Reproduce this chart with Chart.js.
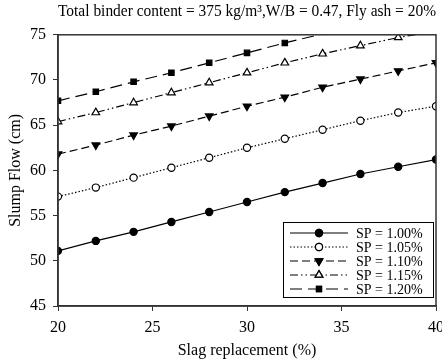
<!DOCTYPE html>
<html>
<head>
<meta charset="utf-8">
<script src="https://cdn.jsdelivr.net/npm/chart.js@4/dist/chart.umd.min.js"></script>
<style>
  body { margin: 0; background: #fff; }
  #wrap { width: 442px; height: 362px; }
</style>
</head>
<body>
<div id="wrap"><canvas id="slumpChart"></canvas></div>
<script>
// slag replacement (%)
const slag = [20, 22, 24, 26, 28, 30, 32, 34, 36, 38, 40];

// slump flow (cm) for each SP dosage
const sp100 = [51.1, 52.2, 53.2, 54.3, 55.4, 56.5, 57.6, 58.6, 59.6, 60.4, 61.2];
const sp105 = [57.1, 58.1, 59.2, 60.3, 61.4, 62.5, 63.5, 64.5, 65.5, 66.4, 67.1];
const sp110 = [61.8, 62.8, 63.9, 64.9, 66.0, 67.1, 68.1, 69.2, 70.1, 71.0, 71.9];
const sp115 = [65.4, 66.4, 67.5, 68.6, 69.7, 70.8, 71.9, 72.9, 73.8, 74.7, 75.4];
const sp120 = [67.7, 68.7, 69.8, 70.8, 71.9, 73.0, 74.1, 75.1, 76.1, 77.0, 77.8];

const seriesNames = ['SP = 1.00%', 'SP = 1.05%', 'SP = 1.10%', 'SP = 1.15%', 'SP = 1.20%'];
const yTicks = [45, 50, 55, 60, 65, 70, 75];
const xTicks = [20, 25, 30, 35, 40];

const serif = 'Liberation Serif, Times New Roman, serif';

function toPoints(vals) {
    return slag.map((x, i) => ({ x: x, y: vals[i] }));
}

// hide markers that fall above the axis top
function radiusIn(r) {
    return function(ctx) {
        const v = ctx.raw && ctx.raw.y;
        return v > 75 ? 0 : r;
    };
}

function makeSet(label, vals, style, fill, dash, rot, r) {
    return {
        label: label,
        data: toPoints(vals),
        borderColor: '#000',
        backgroundColor: fill,
        borderWidth: 1.2,
        borderDash: dash,
        pointStyle: style,
        pointRotation: rot,
        pointRadius: radiusIn(r),
        pointBorderColor: '#000',
        pointBackgroundColor: fill,
        pointBorderWidth: 1.2,
        tension: 0
    };
}

const datasets = [
    makeSet(seriesNames[0], sp100, 'circle', '#000', [], 0, 3.6),
    makeSet(seriesNames[1], sp105, 'circle', '#fff', [1.5, 2], 0, 3.6),
    makeSet(seriesNames[2], sp110, 'triangle', '#000', [8, 4], 180, 4.4),
    makeSet(seriesNames[3], sp115, 'triangle', '#fff', [8, 3, 1.5, 3, 1.5, 3], 0, 4.4),
    makeSet(seriesNames[4], sp120, 'rect', '#000', [12, 6], 0, 3.8)
];

// legend box inside the plot, bottom right
const boxLegend = {
    id: 'boxLegend',
    afterDatasetsDraw(chart) {
        const c = chart.ctx;
        const x0 = 283, y0 = 222, w = 150, h = 75;
        c.save();
        c.fillStyle = '#fff';
        c.fillRect(x0, y0, w, h);
        c.strokeStyle = '#000';
        c.lineWidth = 1;
        c.strokeRect(x0 + 0.5, y0 + 0.5, w, h);
        chart.data.datasets.forEach((ds, i) => {
            const yy = y0 + 11 + i * 14;
            c.beginPath();
            c.setLineDash(ds.borderDash);
            c.lineWidth = ds.borderWidth;
            c.moveTo(x0 + 7, yy);
            c.lineTo(x0 + 65, yy);
            c.stroke();
            c.setLineDash([]);
            Chart.helpers.drawPoint(c, {
                pointStyle: ds.pointStyle,
                rotation: ds.pointRotation,
                radius: ds.pointStyle === 'triangle' ? 4.4 : 3.6,
                borderWidth: 1.2
            }, x0 + 36, yy);
            c.fillStyle = ds.pointBackgroundColor;
            c.fill();
            c.stroke();
            c.fillStyle = '#000';
            c.font = '14px ' + serif;
            c.textBaseline = 'middle';
            c.fillText(ds.label, x0 + 73, yy + 1);
        });
        c.restore();
    }
};

// box round the plot area
const frame = {
    id: 'frame',
    afterDraw(chart) {
        const a = chart.chartArea;
        const c = chart.ctx;
        c.save();
        c.strokeStyle = '#333';
        c.lineWidth = 1.5;
        c.strokeRect(a.left, a.top, a.right - a.left, a.bottom - a.top);
        c.restore();
    }
};

new Chart(document.getElementById('slumpChart'), {
    type: 'line',
    data: { datasets: datasets },
    plugins: [boxLegend, frame],
    options: {
        responsive: true,
        maintainAspectRatio: false,
        animation: false,
        layout: { padding: { top: 2, right: 6, left: 0, bottom: 0 } },
        plugins: {
            legend: { display: false },
            tooltip: { enabled: false },
            title: {
                display: true,
                fullSize: false,
                text: 'Total binder content = 375 kg/m³,W/B = 0.47, Fly ash = 20%',
                color: '#000',
                font: { family: serif, size: 16.5, weight: 'normal' },
                padding: { top: 0, bottom: 13 }
            }
        },
        scales: {
            x: {
                type: 'linear',
                min: 20,
                max: 40,
                afterBuildTicks: s => { s.ticks = xTicks.map(v => ({ value: v })); },
                afterFit: s => { s.height = 56; s.paddingLeft = 0; s.paddingRight = 0; },
                ticks: { color: '#000', font: { family: serif, size: 16 }, padding: 7, maxRotation: 0 },
                grid: { drawOnChartArea: false, color: '#333', tickLength: 5 },
                border: { color: '#333', width: 1.5 },
                title: {
                    display: true,
                    text: 'Slag replacement (%)',
                    color: '#000',
                    font: { family: serif, size: 16 },
                    padding: { top: 0, bottom: 2 }
                }
            },
            y: {
                min: 45,
                max: 75,
                afterBuildTicks: s => { s.ticks = yTicks.map(v => ({ value: v })); },
                afterFit: s => { s.width = 58; s.paddingTop = 0; s.paddingBottom = 0; },
                ticks: { color: '#000', font: { family: serif, size: 16 }, padding: 7 },
                grid: { drawOnChartArea: false, color: '#333', tickLength: 5 },
                border: { color: '#333', width: 1.5 },
                title: {
                    display: true,
                    text: 'Slump Flow (cm)',
                    color: '#000',
                    font: { family: serif, size: 16 },
                    padding: { top: 6, bottom: 0 }
                }
            }
        }
    }
});
</script>
</body>
</html>
